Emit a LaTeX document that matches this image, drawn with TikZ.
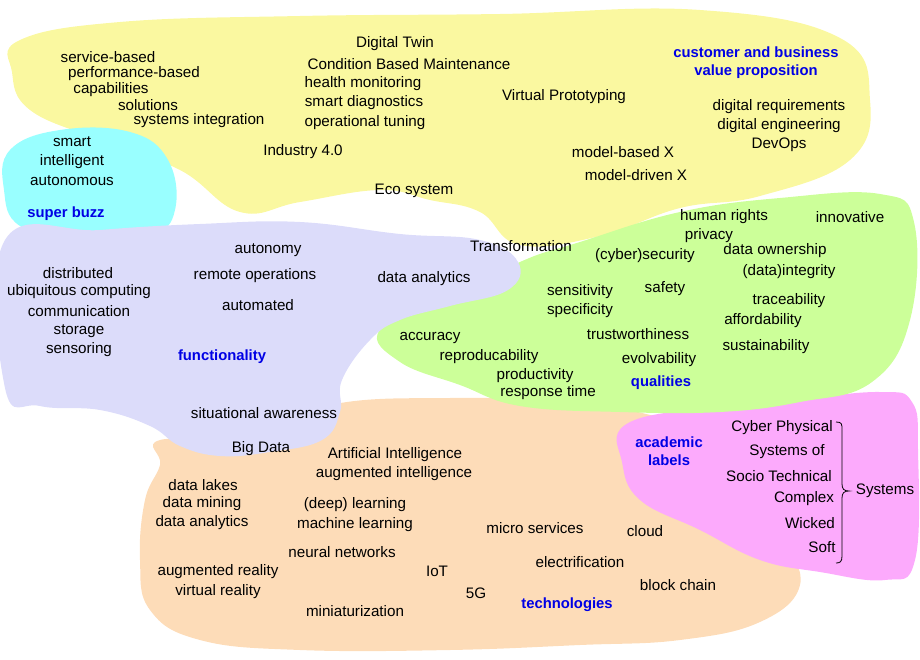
\documentclass[tikz,border=0pt]{standalone}
\usepackage{fontspec}
\setmainfont{Liberation Sans}
\begin{document}
\begin{tikzpicture}[x=1pt,y=-1pt,
  t/.style={inner sep=0pt,font=\fontsize{15.2}{17}\selectfont},
  lbl/.style={inner sep=0pt,align=center,text=blue!90!black,font=\fontsize{14.8}{18}\selectfont\bfseries},
  blob/.style={draw=none}]
\useasboundingbox (0,0) rectangle (920,660);
\definecolor{cyel}{HTML}{FAF8A0}
\definecolor{ccy}{HTML}{99FFFF}
\definecolor{clav}{HTML}{DCDCFA}
\definecolor{cgr}{HTML}{CCFF99}
\definecolor{cpe}{HTML}{FDDCB8}
\definecolor{cpk}{HTML}{FCAAFC}
% blobs
\fill[cpe] plot[smooth cycle,tension=0.7] coordinates {(160,440)(250,440)(330,405)(450,398)(560,402)(650,415)(700,440)(740,500)(780,540)(800,585)(760,622)(680,640)(580,645)(450,650)(300,650)(200,640)(150,610)(140,560)(145,500)(160,465)};
\fill[cpk] plot[smooth cycle,tension=0.7] coordinates {(625,425)(700,408)(790,400)(880,392)(912,402)(918,450)(915,560)(885,580)(820,572)(760,560)(700,530)(640,500)(622,462)};
\fill[cyel] plot[smooth cycle,tension=0.7] coordinates {(20,40)(120,22)(300,16)(500,14)(700,10)(840,38)(870,100)(850,160)(760,196)(680,208)(600,236)(520,245)(480,212)(430,200)(380,190)(300,202)(240,212)(180,170)(100,140)(30,110)(12,72)};
\fill[ccy] plot[smooth cycle,tension=0.7] coordinates {(10,150)(60,130)(130,132)(168,160)(175,210)(150,235)(80,240)(20,226)(4,190)};
\fill[cgr] plot[smooth cycle,tension=0.7] coordinates {(380,330)(450,300)(520,262)(580,242)(680,212)(780,198)(880,194)(914,222)(910,320)(872,382)(800,402)(720,412)(620,412)(520,406)(460,385)(400,362)};
\fill[clav] plot[smooth cycle,tension=0.7] coordinates {(5,240)(100,230)(200,224)(300,222)(400,234)(480,240)(518,262)(508,290)(450,306)(400,320)(370,340)(342,380)(340,412)(322,440)(270,452)(220,456)(180,446)(150,426)(100,410)(40,406)(5,388)};
% yellow
\node[t] (a1) at (108,57) {service-based};
\node[t] (a2) at (134,74) {performance-based};
\node[t] (a3) at (111,90) {capabilities};
\node[t] (a4) at (148,105) {solutions};
\node[t] (a5) at (199,121) {systems integration};
\node[t] (a6) at (395,44) {Digital Twin};
\node[t] (a7) at (409,64) {Condition Based Maintenance};
\node[t] (a8) at (363,84) {health monitoring};
\node[t] (a9) at (364,103) {smart diagnostics};
\node[t] (a10) at (365,123) {operational tuning};
\node[t] (a11) at (564,97) {Virtual Prototyping};
\node[lbl] (a12) at (756,63) {customer and business\\value proposition};
\node[t] (a13) at (779,107) {digital requirements};
\node[t] (a14) at (779,126) {digital engineering};
\node[t] (a15) at (779,145) {DevOps};
\node[t] (a16) at (303,152) {Industry 4.0};
\node[t] (a17) at (623,152) {model-based X};
\node[t] (a18) at (636,175) {model-driven X};
\node[t] (a19) at (414,191) {Eco system};
% cyan
\node[t] (b1) at (72,142) {smart};
\node[t] (b2) at (72,162) {intelligent};
\node[t] (b3) at (72,181) {autonomous};
\node[lbl] (b4) at (66,214) {super buzz};
% lavender
\node[t] (c1) at (268,250) {autonomy};
\node[t] (c2) at (255,276) {remote operations};
\node[t] (c3) at (258,305) {automated};
\node[t] (c4) at (424,279) {data analytics};
\node[t] (c5) at (78,273) {distributed};
\node[t] (c6) at (79,292) {ubiquitous computing};
\node[t] (c7) at (79,311) {communication};
\node[t] (c8) at (79,331) {storage};
\node[t] (c9) at (79,350) {sensoring};
\node[lbl] (c10) at (222,357) {functionality};
\node[t] (c11) at (264,413) {situational awareness};
\node[t] (c12) at (521,246) {Transformation};
% green
\node[t] (d1) at (724,217) {human rights};
\node[t] (d2) at (850,217) {innovative};
\node[t] (d3) at (709,236) {privacy};
\node[t] (d4) at (645,256) {(cyber)security};
\node[t] (d5) at (775,251) {data ownership};
\node[t] (d6) at (789,272) {(data)integrity};
\node[t] (d7) at (580,292) {sensitivity};
\node[t] (d8) at (665,289) {safety};
\node[t] (d9) at (580,311) {specificity};
\node[t] (d10) at (789,301) {traceability};
\node[t] (d11) at (763,321) {affordability};
\node[t] (d12) at (638,334) {trustworthiness};
\node[t] (d13) at (430,338) {accuracy};
\node[t] (d14) at (489,357) {reproducability};
\node[t] (d15) at (659,360) {evolvability};
\node[t] (d16) at (766,347) {sustainability};
\node[t] (d17) at (535,376) {productivity};
\node[lbl] (d18) at (661,383) {qualities};
\node[t] (d19) at (548,393) {response time};
% pink
\node[lbl] (e1) at (669,451) {academic\\labels};
\node[t] (e2) at (782,428) {Cyber Physical};
\node[t] (e3) at (787,452) {Systems of};
\node[t] (e4) at (779,476) {Socio Technical};
\node[t] (e5) at (804,499) {Complex};
\node[t] (e6) at (810,523) {Wicked};
\node[t] (e7) at (822,547) {Soft};
\node[t] (e8) at (885,491) {Systems};
\coordinate (bt) at (836,422);
\coordinate (bb) at (836,563);
\draw[line width=0.8pt] (bt) .. controls (842,422) and (842,424) .. (842,430) -- (842,484) .. controls (842,489) and (844,491) .. (849,491) .. controls (844,491) and (842,493) .. (842,498) -- (842,556) .. controls (842,562) and (840,563) .. (bb);
% peach
\node[t] (f1) at (261,449) {Big Data};
\node[t] (f2) at (395,455) {Artificial Intelligence};
\node[t] (f3) at (394,474) {augmented intelligence};
\node[t] (f4) at (203,485) {data lakes};
\node[t] (f5) at (202,504) {data mining};
\node[t] (f6) at (202,523) {data analytics};
\node[t] (f7) at (355,505) {(deep) learning};
\node[t] (f8) at (355,525) {machine learning};
\node[t] (f9) at (535,528) {micro services};
\node[t] (f10) at (645,531) {cloud};
\node[t] (f11) at (342,552) {neural networks};
\node[t] (f12) at (580,562) {electrification};
\node[t] (f13) at (218,572) {augmented reality};
\node[t] (f14) at (218,592) {virtual reality};
\node[t] (f15) at (437,571) {IoT};
\node[t] (f16) at (678,585) {block chain};
\node[t] (f17) at (476,593) {5G};
\node[lbl] (f18) at (567,605) {technologies};
\node[t] (f19) at (355,611) {miniaturization};
\end{tikzpicture}
\end{document}
